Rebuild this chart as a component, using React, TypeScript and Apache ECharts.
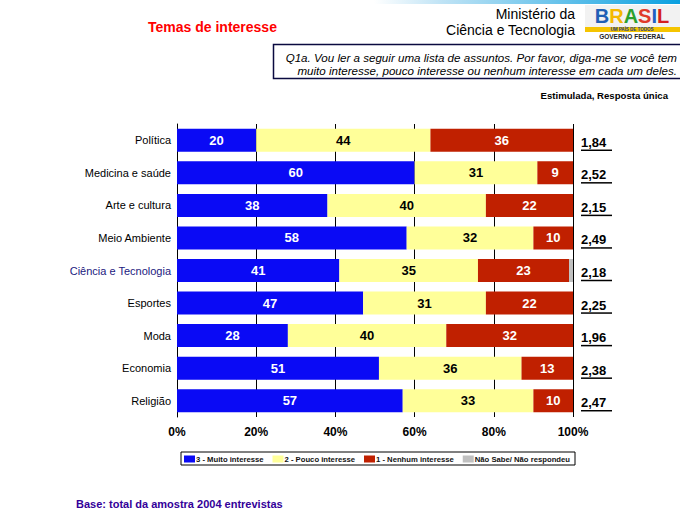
import React, { useEffect, useRef } from "react";
import * as echarts from "echarts";

const categories = [
  "Política",
  "Medicina e saúde",
  "Arte e cultura",
  "Meio Ambiente",
  "Ciência e Tecnologia",
  "Esportes",
  "Moda",
  "Economia",
  "Religião",
];
const muito = [20, 60, 38, 58, 41, 47, 28, 51, 57];
const pouco = [44, 31, 40, 32, 35, 31, 40, 36, 33];
const nenhum = [36, 9, 22, 10, 23, 22, 32, 13, 10];
const naoSabe = [0, 0, 0, 0, 1, 0, 0, 0, 0];
const medias = ["1,84", "2,52", "2,15", "2,49", "2,18", "2,25", "1,96", "2,38", "2,47"];
const seriesNames = [
  "3 - Muito interesse",
  "2 - Pouco interesse",
  "1 - Nenhum interesse",
  "Não Sabe/ Não respondeu",
];
const xTicks = [0, 20, 40, 60, 80, 100];

const FONT = "'Liberation Sans', Arial, sans-serif";

export default function App() {
  const ref = useRef<HTMLDivElement>(null);
  useEffect(() => {
    if (!ref.current) return;
    const chart = echarts.init(ref.current, null, { renderer: "svg" });
    const barLabel = (color: string) => ({
      show: true,
      color,
      fontFamily: FONT,
      fontSize: 13,
      fontWeight: "bold" as const,
      formatter: (p: any) => (p.value > 0 ? String(p.value) : ""),
    });
    const logoLetter = (c: string) => ({
      fill: c,
      font: "bold 20px " + FONT,
    });
    const option: any = {
      animation: false,
      backgroundColor: "#ffffff",
      textStyle: { fontFamily: FONT },
      grid: { left: 177, top: 124, width: 396, height: 293 },
      xAxis: {
        type: "value",
        min: xTicks[0],
        max: xTicks[xTicks.length - 1],
        interval: 20,
        axisLine: { show: false },
        axisTick: { show: false },
        splitLine: { show: true, lineStyle: { color: "#000000", width: 1 } },
        axisLabel: {
          formatter: "{value}%",
          color: "#000000",
          fontFamily: FONT,
          fontSize: 12,
          fontWeight: "bold",
          margin: 9,
        },
      },
      yAxis: {
        type: "category",
        data: categories,
        inverse: true,
        axisLine: { show: true, lineStyle: { color: "#000000", width: 1 } },
        axisTick: { show: false },
        axisLabel: {
          margin: 6,
          fontFamily: FONT,
          fontSize: 11,
          color: "#000000",
          formatter: (v: string) =>
            v === "Ciência e Tecnologia" ? "{hl|" + v + "}" : v,
          rich: {
            hl: { color: "#1c2080", fontFamily: FONT, fontSize: 11 },
          },
        },
      },
      legend: {
        data: seriesNames,
        left: 181,
        top: 452,
        width: 480,
        padding: [3, 5, 2, 3],
        itemGap: 9,
        itemWidth: 11,
        itemHeight: 7,
        borderColor: "#000000",
        borderWidth: 1,
        icon: "rect",
        textStyle: {
          fontFamily: FONT,
          fontSize: 7.7,
          fontWeight: "bold",
          color: "#111111",
          padding: [0, 0, 0, -4],
        },
      },
      series: [
        {
          name: seriesNames[0],
          type: "bar",
          stack: "t",
          data: muito,
          barWidth: 23,
          itemStyle: { color: "#0a0af5" },
          label: barLabel("#ffffff"),
        },
        {
          name: seriesNames[1],
          type: "bar",
          stack: "t",
          data: pouco,
          barWidth: 23,
          itemStyle: { color: "#ffff99" },
          label: barLabel("#000000"),
        },
        {
          name: seriesNames[2],
          type: "bar",
          stack: "t",
          data: nenhum,
          barWidth: 23,
          itemStyle: { color: "#c02000" },
          label: barLabel("#ffffff"),
        },
        {
          name: seriesNames[3],
          type: "bar",
          stack: "t",
          data: naoSabe,
          barWidth: 23,
          itemStyle: { color: "#c0c0c0" },
          label: { show: false },
        },
        {
          type: "custom",
          silent: true,
          clip: false,
          data: medias.map((m, i) => [100, i, m]),
          renderItem: (params: any, api: any) => {
            const p = api.coord([api.value(0), api.value(1)]);
            const txt = medias[params.dataIndex];
            const x0 = p[0] + 8;
            return {
              type: "group",
              children: [
                {
                  type: "text",
                  x: x0,
                  y: p[1] + 2,
                  style: {
                    text: txt,
                    fill: "#000000",
                    font: "bold 13px " + FONT,
                    textAlign: "left",
                    textVerticalAlign: "middle",
                  },
                },
                {
                  type: "line",
                  shape: { x1: x0, y1: p[1] + 10, x2: x0 + 31, y2: p[1] + 10 },
                  style: { stroke: "#000000", lineWidth: 1.5 },
                },
              ],
            };
          },
        },
      ],
      graphic: [
        {
          type: "rect",
          shape: { x: 0, y: 0, width: 680, height: 4 },
          style: {
            fill: new echarts.graphic.LinearGradient(0, 0, 1, 0, [
              { offset: 0, color: "#ffffff" },
              { offset: 0.55, color: "#ffffff" },
              { offset: 0.65, color: "#bfe3f5" },
              { offset: 1, color: "#0aa0e0" },
            ]),
          },
        },
        {
          type: "text",
          x: 148,
          y: 27,
          style: {
            text: "Temas de interesse",
            fill: "#ff0000",
            font: "bold 14px " + FONT,
            textVerticalAlign: "middle",
          },
        },
        {
          type: "text",
          x: 575,
          y: 14,
          style: {
            text: "Ministério da",
            fill: "#000000",
            font: "14px " + FONT,
            textAlign: "right",
            textVerticalAlign: "middle",
          },
        },
        {
          type: "text",
          x: 575,
          y: 30,
          style: {
            text: "Ciência e Tecnologia",
            fill: "#000000",
            font: "14px " + FONT,
            textAlign: "right",
            textVerticalAlign: "middle",
          },
        },
        // logo approximation
        {
          type: "group",
          x: 585,
          y: 5,
          children: [
            { type: "rect", shape: { x: 0, y: 0, width: 95, height: 22 }, style: { fill: "#f2f2f2" } },
            {
              type: "text",
              x: 47,
              y: 11,
              style: {
                text: "{b|B}{r|R}{a|A}{s|S}{i|I}{l|L}",
                textAlign: "center",
                textVerticalAlign: "middle",
                rich: {
                  b: logoLetter("#1f5fb5"),
                  r: logoLetter("#f5b800"),
                  a: logoLetter("#2ca02c"),
                  s: logoLetter("#e03a2a"),
                  i: logoLetter("#2060c0"),
                  l: logoLetter("#d42020"),
                },
              },
            },
            { type: "rect", shape: { x: 0, y: 22, width: 95, height: 5 }, style: { fill: "#f5c400" } },
            { type: "text", x: 47, y: 24.5, style: { text: "UM PAÍS DE TODOS", fill: "#1a3a8a", font: "bold 4.5px " + FONT, textAlign: "center", textVerticalAlign: "middle" } },
            { type: "text", x: 47, y: 31.5, style: { text: "GOVERNO FEDERAL", fill: "#222222", font: "bold 6.5px " + FONT, textAlign: "center", textVerticalAlign: "middle" } },
          ],
        },
        {
          type: "rect",
          shape: { x: 273.5, y: 44.5, width: 410, height: 34 },
          style: { fill: "#ffffff", stroke: "#0a0a40", lineWidth: 1.5 },
        },
        {
          type: "text",
          x: 677,
          y: 57,
          style: {
            text: "Q1a. Vou ler a seguir uma lista de assuntos. Por favor, diga-me se você tem",
            fill: "#000000",
            font: "italic 11.6px " + FONT,
            textAlign: "right",
            textVerticalAlign: "middle",
          },
        },
        {
          type: "text",
          x: 677,
          y: 70,
          style: {
            text: "muito interesse, pouco interesse ou nenhum interesse em cada um deles.",
            fill: "#000000",
            font: "italic 11.6px " + FONT,
            textAlign: "right",
            textVerticalAlign: "middle",
          },
        },
        {
          type: "text",
          x: 668,
          y: 95,
          style: {
            text: "Estimulada, Resposta única",
            fill: "#000000",
            font: "bold 9.6px " + FONT,
            textAlign: "right",
            textVerticalAlign: "middle",
          },
        },
        {
          type: "text",
          x: 76,
          y: 504,
          style: {
            text: "Base: total da amostra 2004 entrevistas",
            fill: "#330099",
            font: "bold 11px " + FONT,
            textVerticalAlign: "middle",
          },
        },
      ],
    };
    chart.setOption(option);
    return () => chart.dispose();
  }, []);
  return (
    <div
      ref={ref}
      style={{ position: "fixed", left: 0, top: 0, width: 680, height: 510 }}
    />
  );
}
